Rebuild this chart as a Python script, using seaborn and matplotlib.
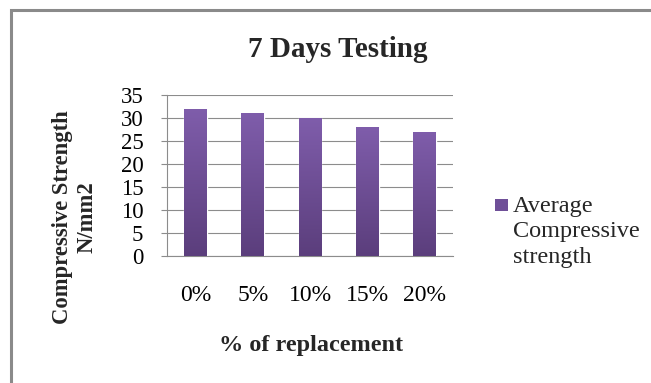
import numpy as np
import matplotlib
matplotlib.use("Agg")
import matplotlib.pyplot as plt
from matplotlib.patches import Rectangle
from matplotlib.colors import LinearSegmentedColormap
from matplotlib.legend_handler import HandlerPatch
import seaborn as sns

# Chart data
categories = ["0%", "5%", "10%", "15%", "20%"]
strength = [32, 31, 30, 28, 27]
series_label = "Average\nCompressive\nstrength"
y_ticks = [0, 5, 10, 15, 20, 25, 30, 35]

sns.set_style("white")
plt.rcParams["font.family"] = ["Liberation Serif", "DejaVu Serif"]

W, H = 651, 383
fig = plt.figure(figsize=(W / 100, H / 100), dpi=100)
ax = fig.add_axes([167 / W, 1 - 256 / H, 286 / W, 161 / H])

grid_col = "#8c8c8c"
top_col = "#7f5dab"
bot_col = "#5b3e7c"
mid_col = "#6f4f98"

sns.barplot(x=categories, y=strength, color=bot_col, width=0.4,
            saturation=1, ax=ax, zorder=3)

# vertical purple gradient inside each bar
cmap = LinearSegmentedColormap.from_list("bar_grad", [bot_col, top_col])
grad = np.linspace(0, 1, 256).reshape(-1, 1)
for p in list(ax.patches):
    x0, y0 = p.get_x(), p.get_y()
    w, h = p.get_width(), p.get_height()
    im = ax.imshow(grad, extent=(x0, x0 + w, y0, y0 + h), aspect="auto",
                   cmap=cmap, origin="lower", zorder=3.1, interpolation="bilinear")
    im.set_clip_path(p)

ax.set_xlim(-0.5, len(categories) - 0.5)
ax.set_ylim(0, 35)
ax.set_yticks(y_ticks)
ax.set_yticklabels([str(t) for t in y_ticks])

ax.grid(axis="y", color=grid_col, linewidth=0.8, zorder=0)
ax.grid(axis="x", visible=False)
for s in ["top", "right"]:
    ax.spines[s].set_visible(False)
for s in ["left", "bottom"]:
    ax.spines[s].set_color(grid_col)
    ax.spines[s].set_linewidth(0.8)

ax.tick_params(axis="y", length=4, width=0.8, color=grid_col, pad=13,
               labelsize=16.5, labelcolor="black", left=True)
ax.tick_params(axis="x", length=0, pad=21, labelsize=17, labelcolor="black")

ax.set_xlabel("% of replacement", fontsize=17.5, fontweight="bold")
ax.xaxis.label.set(va="center", ha="center")
ax.xaxis.set_label_coords((311 - 167) / 286, (256 - 345) / 161)

ax.set_ylabel("Compressive Strength\nN/mm2", fontsize=16.3, fontweight="bold",
              linespacing=1.25)
ax.yaxis.label.set(va="center", ha="center")
ax.yaxis.set_label_coords((75 - 167) / 286, (256 - 217) / 161)

fig.suptitle("7 Days Testing", x=338 / W, y=1 - 57 / H, va="baseline",
             ha="center", fontsize=21, fontweight="bold")


# legend swatch sits beside the first line of the label
def top_swatch(legend, orig_handle, xdescent, ydescent, width, height, fontsize):
    return Rectangle((-xdescent, -ydescent + 1.08 * fontsize), width, height)


swatch = Rectangle((0, 0), 1, 1, facecolor=mid_col, edgecolor="none")
leg = fig.legend([swatch], [series_label], loc="center left",
                 bbox_to_anchor=(495 / W, 1 - 232 / H), frameon=False,
                 fontsize=17.5, borderpad=0, borderaxespad=0,
                 handlelength=0.55, handleheight=0.4, handletextpad=0.2,
                 handler_map={swatch: HandlerPatch(patch_func=top_swatch)})
for t in leg.get_texts():
    t.set_linespacing(1.3)

# chart frame
fig.patches.append(Rectangle((11 / W, -0.05), 1.0, 1 - 9.5 / H + 0.05,
                             transform=fig.transFigure, fill=False,
                             edgecolor="#8a8a8a", linewidth=2.2))

fig.savefig("out.png", dpi=100, facecolor="white")
